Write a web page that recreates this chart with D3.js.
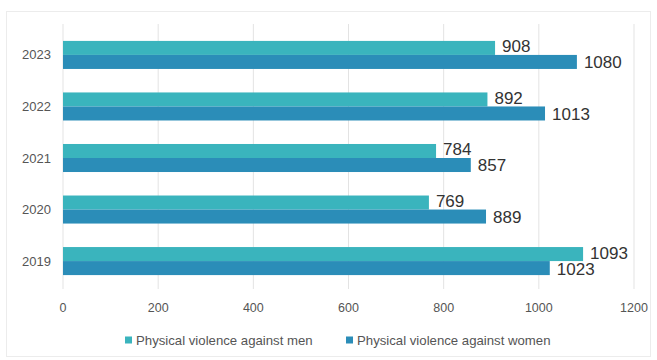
<!DOCTYPE html>
<html>
<head>
<meta charset="utf-8">
<script src="https://cdn.jsdelivr.net/npm/d3@7"></script>
<style>
  body { margin: 0; background: #fff; }
  text { font-family: "Liberation Sans", Arial, sans-serif; }
</style>
</head>
<body>
<div id="chart"></div>
<script>
const years = ["2023", "2022", "2021", "2020", "2019"];
const menValues = [908, 892, 784, 769, 1093];
const womenValues = [1080, 1013, 857, 889, 1023];
const xTicks = [0, 200, 400, 600, 800, 1000, 1200];
const seriesNames = ["Physical violence against men", "Physical violence against women"];
const colors = ["#3ab4bd", "#2b8db8"];

const width = 657, height = 360;

const svg = d3.select("#chart")
  .append("svg")
  .attr("width", width)
  .attr("height", height);

// faint outer frame
svg.append("rect")
  .attr("x", 6.5)
  .attr("y", 11.5)
  .attr("width", 644)
  .attr("height", 345)
  .attr("fill", "none")
  .attr("stroke", "#ececec");

const x = d3.scaleLinear()
  .domain([0, 1200])
  .range([63, 634]);

const y = d3.scaleBand()
  .domain(years)
  .range([27, 289])
  .paddingInner(0.456)
  .paddingOuter(0.27);

const sub = d3.scaleBand()
  .domain([0, 1])
  .range([0, y.bandwidth()]);

// gridlines
svg.selectAll(".grid")
  .data(xTicks)
  .enter()
  .append("line")
  .attr("x1", d => x(d))
  .attr("x2", d => x(d))
  .attr("y1", 24)
  .attr("y2", 289)
  .attr("stroke", "#e3e3e3")
  .attr("stroke-width", 1);

const rows = years.map((yr, i) => ({ year: yr, vals: [menValues[i], womenValues[i]] }));

const groups = svg.selectAll(".row")
  .data(rows)
  .enter()
  .append("g")
  .attr("transform", d => `translate(0,${y(d.year)})`);

groups.selectAll("rect")
  .data(d => d.vals.map((v, k) => ({ v, k })))
  .enter()
  .append("rect")
  .attr("x", x(0))
  .attr("y", d => sub(d.k))
  .attr("width", d => x(d.v) - x(0))
  .attr("height", sub.bandwidth())
  .attr("fill", d => colors[d.k]);

groups.selectAll(".lbl")
  .data(d => d.vals.map((v, k) => ({ v, k })))
  .enter()
  .append("text")
  .attr("x", d => x(d.v) + 7)
  .attr("y", d => sub(d.k) + sub.bandwidth() / 2 + (d.k === 0 ? -1 : 1))
  .attr("dominant-baseline", "central")
  .attr("font-size", 17)
  .attr("fill", "#333")
  .text(d => d.v);

// year labels
svg.selectAll(".year")
  .data(years)
  .enter()
  .append("text")
  .attr("x", 51)
  .attr("y", d => y(d) + y.bandwidth() / 2)
  .attr("text-anchor", "end")
  .attr("dominant-baseline", "central")
  .attr("font-size", 13)
  .attr("fill", "#555")
  .text(d => d);

// x tick labels
svg.selectAll(".tick")
  .data(xTicks)
  .enter()
  .append("text")
  .attr("x", d => x(d))
  .attr("y", 308)
  .attr("text-anchor", "middle")
  .attr("dominant-baseline", "central")
  .attr("font-size", 12.5)
  .attr("fill", "#555")
  .text(d => d);

// legend
const legendX = [125, 346];
const legend = svg.selectAll(".legend")
  .data(seriesNames)
  .enter()
  .append("g")
  .attr("transform", (d, i) => `translate(${legendX[i]},340)`);

legend.append("rect")
  .attr("x", 0)
  .attr("y", -3.5)
  .attr("width", 7)
  .attr("height", 7)
  .attr("fill", (d, i) => colors[i]);

legend.append("text")
  .attr("x", 11)
  .attr("y", 0)
  .attr("dominant-baseline", "central")
  .attr("font-size", 13.2)
  .attr("fill", "#555")
  .text(d => d);
</script>
</body>
</html>
